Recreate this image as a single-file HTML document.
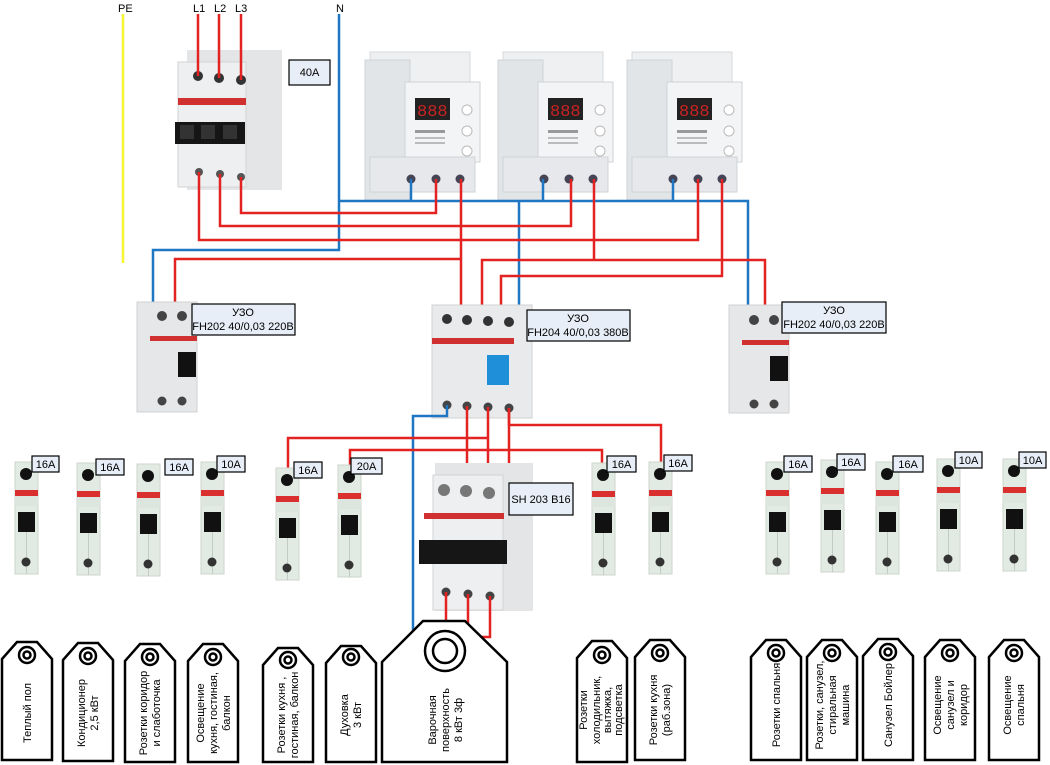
<!DOCTYPE html>
<html><head><meta charset="utf-8"><style>
html,body{margin:0;padding:0;background:#fff;}
svg{display:block;font-family:"Liberation Sans","DejaVu Sans",sans-serif;}
.lb{fill:#e8eef7;stroke:#000;stroke-width:1.2;}
.lt{font-size:11px;fill:#000;}
.tg{fill:#fff;stroke:#000;stroke-width:2.5;}
.tt{font-size:11px;fill:#000;}
.r{stroke:#e32222;stroke-width:2.5;fill:none;}
.b{stroke:#1f77c4;stroke-width:2.5;fill:none;}
</style></head><body>
<svg width="1050" height="765" viewBox="0 0 1050 765" xmlns="http://www.w3.org/2000/svg">
<defs>
<g id="mcb">
<rect x="0" y="0" width="23" height="112" fill="#e2ebe3" stroke="#cdd6ce"/>
<rect x="0" y="28" width="23" height="6" fill="#d9302f"/>
<rect x="0" y="34" width="23" height="10" fill="#dde6de"/>
<rect x="3" y="50" width="17" height="20" fill="#111"/>
<line x1="11.5" y1="70" x2="11.5" y2="112" stroke="#c3ccc4"/>
<circle cx="11" cy="100" r="4.5" fill="#333"/>
<circle cx="11" cy="12" r="6" fill="#111"/>
</g>
<g id="relay">
<rect x="5" y="0" width="100" height="40" fill="#eef0f2" stroke="#d5d8db"/>
<rect x="0" y="8" width="45" height="140" fill="#e2e5e8" stroke="#d0d3d6"/>
<rect x="40" y="30" width="75" height="80" fill="#f3f4f6" stroke="#cfd2d5"/>
<rect x="50" y="46" width="35" height="22" fill="#222"/>
<text x="52" y="64" font-size="17" fill="#c22" font-family="Liberation Mono,monospace">888</text>
<circle cx="102" cy="58" r="5" fill="#fff" stroke="#bbb"/>
<circle cx="102" cy="79" r="5" fill="#fff" stroke="#bbb"/>
<circle cx="102" cy="99" r="5" fill="#fff" stroke="#bbb"/>
<rect x="50" y="78" width="30" height="3" fill="#999"/>
<rect x="50" y="85" width="30" height="2" fill="#bbb"/>
<rect x="50" y="90" width="30" height="2" fill="#bbb"/>
<rect x="5" y="105" width="105" height="35" fill="#e6e8eb" stroke="#d0d3d6"/>
<circle cx="46" cy="127" r="4.5" fill="#445"/>
<circle cx="71" cy="127" r="4.5" fill="#445"/>
<circle cx="95" cy="127" r="4.5" fill="#445"/>
</g>
</defs>

<!-- top labels -->
<text x="118" y="12" class="lt">PE</text>
<text x="193" y="12" class="lt">L1</text>
<text x="214" y="12" class="lt">L2</text>
<text x="235" y="12" class="lt">L3</text>
<text x="336" y="12" class="lt">N</text>
<line x1="123" y1="14" x2="123" y2="263" stroke="#f5f531" stroke-width="2.5"/>

<!-- 3-pole 40A -->
<g>
<rect x="187" y="50" width="95" height="140" fill="#e4e5e7"/>
<rect x="178" y="62" width="68" height="125" fill="#eeeff0" stroke="#d2d3d5"/>
<rect x="178" y="98" width="68" height="7" fill="#d0302f"/>
<rect x="175" y="122" width="70" height="22" fill="#161616"/>
<rect x="180" y="125" width="14" height="14" fill="#333"/>
<rect x="201" y="125" width="14" height="14" fill="#333"/>
<rect x="223" y="125" width="14" height="14" fill="#333"/>
<circle cx="198" cy="76" r="5" fill="#333"/><circle cx="219" cy="78" r="5" fill="#333"/><circle cx="241" cy="80" r="5" fill="#333"/>
<circle cx="199" cy="172" r="4" fill="#555"/><circle cx="220" cy="174" r="4" fill="#555"/><circle cx="241" cy="177" r="4" fill="#555"/>
</g>
<rect x="289" y="60" width="41" height="25" class="lb"/><text x="309.5" y="76" class="lt" text-anchor="middle">40A</text>

<!-- relays -->
<use href="#relay" x="365" y="52"/>
<use href="#relay" x="498" y="52"/>
<use href="#relay" x="627" y="52"/>

<!-- wiring top -->
<path class="r" d="M198 14V76"/><path class="r" d="M219 14V78"/><path class="r" d="M241 14V80"/>
<path class="b" d="M339 14V250H153V305"/>
<path class="b" d="M339 201H748V308"/>
<path class="b" d="M411 179V201M543 179V201M673 179V201"/>
<path class="b" d="M519 201V308"/>
<path class="r" d="M241 177V213H436V179"/>
<path class="r" d="M220 174V226H571V179"/>
<path class="r" d="M199 172V240H698V179"/>
<path class="r" d="M461 179V308"/>
<path class="r" d="M175 305V259H461"/>
<path class="r" d="M594 179V260"/>
<path class="r" d="M482 308V260H765V308"/>
<path class="r" d="M722 179V276H501V308"/>

<!-- left UZO -->
<g>
<rect x="137" y="302" width="60" height="110" fill="#e6e7e9" stroke="#d0d1d3"/>
<circle cx="162" cy="316" r="5" fill="#444"/><circle cx="182" cy="316" r="5" fill="#444"/>
<rect x="150" y="336" width="47" height="5" fill="#d0302f"/>
<rect x="178" y="352" width="18" height="25" fill="#111"/>
<circle cx="162" cy="401" r="4.5" fill="#444"/><circle cx="182" cy="401" r="4.5" fill="#444"/>
</g>
<rect x="192" y="304" width="103" height="31" class="lb"/>
<text x="243" y="316" class="lt" text-anchor="middle">УЗО</text>
<text x="243" y="330" class="lt" text-anchor="middle">FH202 40/0,03 220В</text>

<!-- right UZO -->
<g>
<rect x="729" y="305" width="60" height="108" fill="#e6e7e9" stroke="#d0d1d3"/>
<circle cx="754" cy="320" r="5" fill="#444"/><circle cx="774" cy="320" r="5" fill="#444"/>
<rect x="742" y="340" width="47" height="5" fill="#d0302f"/>
<rect x="770" y="356" width="18" height="25" fill="#111"/>
<circle cx="754" cy="404" r="4.5" fill="#444"/><circle cx="774" cy="404" r="4.5" fill="#444"/>
</g>
<rect x="782" y="302" width="104" height="31" class="lb"/>
<text x="834" y="314" class="lt" text-anchor="middle">УЗО</text>
<text x="834" y="328" class="lt" text-anchor="middle">FH202 40/0,03 220В</text>

<!-- middle UZO -->
<g>
<rect x="432" y="305" width="100" height="113" fill="#e9eaec" stroke="#d0d1d3"/>
<circle cx="447" cy="319" r="5" fill="#333"/><circle cx="467" cy="320" r="5" fill="#333"/><circle cx="488" cy="321" r="5" fill="#333"/><circle cx="509" cy="322" r="5" fill="#333"/>
<rect x="432" y="338" width="82" height="6" fill="#d0302f"/>
<rect x="487" y="355" width="22" height="30" fill="#1e8fd8"/>
<circle cx="447" cy="405" r="4.5" fill="#444"/><circle cx="467" cy="406" r="4.5" fill="#444"/><circle cx="488" cy="407" r="4.5" fill="#444"/><circle cx="509" cy="408" r="4.5" fill="#444"/>
</g>
<rect x="527" y="310" width="103" height="31" class="lb"/>
<text x="578" y="322" class="lt" text-anchor="middle">УЗО</text>
<text x="578" y="336" class="lt" text-anchor="middle">FH204 40/0,03 380В</text>

<!-- wiring bottom -->
<path class="b" d="M447 405V416H413V632"/>
<path class="r" d="M509 408V425H661V470"/>
<path class="r" d="M288 470V438H488"/>
<path class="r" d="M350 470V450H602V470"/>
<path class="r" d="M467 406V470M488 407V470M509 408V470"/>

<!-- SH203 -->
<g>
<rect x="435" y="463" width="98" height="148" fill="#e4e5e7"/>
<rect x="433" y="475" width="70" height="135" fill="#eeeff0" stroke="#d2d3d5"/>
<circle cx="444" cy="490" r="6" fill="#777"/><circle cx="466" cy="491" r="6" fill="#777"/><circle cx="489" cy="493" r="6" fill="#777"/>
<rect x="424" y="513" width="80" height="6" fill="#d0302f"/>
<rect x="419" y="540" width="88" height="24" fill="#161616"/>
<circle cx="446" cy="592" r="4.5" fill="#444"/><circle cx="468" cy="594" r="4.5" fill="#444"/><circle cx="490" cy="596" r="4.5" fill="#444"/>
</g>
<rect x="509" y="483" width="64" height="32" class="lb"/><text x="541" y="503" class="lt" text-anchor="middle">SH 203 B16</text>
<path class="r" d="M446 592V645M468 594V625M490 596V637H482"/>

<!-- single breakers -->
<use href="#mcb" x="15" y="462"/><rect x="32" y="456" width="27" height="16" class="lb"/><text x="45.5" y="468" class="lt" text-anchor="middle">16A</text>
<use href="#mcb" x="77" y="463"/><rect x="96" y="459" width="28" height="16" class="lb"/><text x="110" y="471" class="lt" text-anchor="middle">16A</text>
<use href="#mcb" x="137" y="464"/><rect x="165" y="459" width="28" height="16" class="lb"/><text x="179" y="471" class="lt" text-anchor="middle">16A</text>
<use href="#mcb" x="201" y="462"/><rect x="217" y="456" width="28" height="16" class="lb"/><text x="231" y="468" class="lt" text-anchor="middle">10A</text>
<use href="#mcb" x="276" y="468"/><rect x="294" y="462" width="28" height="16" class="lb"/><text x="308" y="474" class="lt" text-anchor="middle">16A</text>
<use href="#mcb" x="338" y="465"/><rect x="351" y="458" width="31" height="16" class="lb"/><text x="366.5" y="470" class="lt" text-anchor="middle">20A</text>
<use href="#mcb" x="592" y="463"/><rect x="607" y="456" width="29" height="16" class="lb"/><text x="621.5" y="468" class="lt" text-anchor="middle">16A</text>
<use href="#mcb" x="649" y="462"/><rect x="664" y="455" width="28" height="16" class="lb"/><text x="678" y="467" class="lt" text-anchor="middle">16A</text>
<use href="#mcb" x="766" y="462"/><rect x="784" y="456" width="28" height="16" class="lb"/><text x="798" y="468" class="lt" text-anchor="middle">16A</text>
<use href="#mcb" x="821" y="460"/><rect x="837" y="454" width="28" height="16" class="lb"/><text x="851" y="466" class="lt" text-anchor="middle">16A</text>
<use href="#mcb" x="876" y="462"/><rect x="893" y="456" width="30" height="16" class="lb"/><text x="908" y="468" class="lt" text-anchor="middle">16A</text>
<use href="#mcb" x="937" y="459"/><rect x="955" y="452" width="27" height="16" class="lb"/><text x="968.5" y="464" class="lt" text-anchor="middle">10A</text>
<use href="#mcb" x="1003" y="459"/><rect x="1019" y="452" width="27" height="16" class="lb"/><text x="1032.5" y="464" class="lt" text-anchor="middle">10A</text>

<!-- tags -->
<g class="tg">
<path d="M17 642H37L52 659V760H2V659Z"/>
<path d="M78 643H98L113 660V761H63V660Z"/>
<path d="M140 644H160L175 661V762H125V661Z"/>
<path d="M203 644H223L238 661V762H188V661Z"/>
<path d="M278 648H298L313 665V762H263V665Z"/>
<path d="M341 646H361L376 663V762H326V663Z"/>
<path d="M423 621H465L507 662V762H382V662Z"/>
<path d="M592 641H612L627 658V762H577V658Z"/>
<path d="M650 640H670L685 657V760H635V657Z"/>
<path d="M766 640H786L801 657V760H751V657Z"/>
<path d="M822 640H842L857 657V760H807V657Z"/>
<path d="M878 639H898L913 656V760H863V656Z"/>
<path d="M940 640H960L975 657V760H925V657Z"/>
<path d="M1004 640H1024L1039 657V760H989V657Z"/>
</g>
<g fill="none" stroke="#000" stroke-width="2.5">
<circle cx="27" cy="655" r="8"/><circle cx="27" cy="655" r="3.5"/>
<circle cx="88" cy="656" r="8"/><circle cx="88" cy="656" r="3.5"/>
<circle cx="150" cy="657" r="8"/><circle cx="150" cy="657" r="3.5"/>
<circle cx="213" cy="657" r="8"/><circle cx="213" cy="657" r="3.5"/>
<circle cx="288" cy="660" r="8"/><circle cx="288" cy="660" r="3.5"/>
<circle cx="351" cy="657" r="8"/><circle cx="351" cy="657" r="3.5"/>
<circle cx="445" cy="651" r="20"/><circle cx="445" cy="651" r="12"/>
<circle cx="602" cy="655" r="8"/><circle cx="602" cy="655" r="3.5"/>
<circle cx="660" cy="653" r="8"/><circle cx="660" cy="653" r="3.5"/>
<circle cx="776" cy="653" r="8"/><circle cx="776" cy="653" r="3.5"/>
<circle cx="832" cy="653" r="8"/><circle cx="832" cy="653" r="3.5"/>
<circle cx="888" cy="652" r="8"/><circle cx="888" cy="652" r="3.5"/>
<circle cx="950" cy="653" r="8"/><circle cx="950" cy="653" r="3.5"/>
<circle cx="1014" cy="653" r="8"/><circle cx="1014" cy="653" r="3.5"/>
</g>

<g class="tt" text-anchor="middle">
<text transform="translate(27,713) rotate(-90)"><tspan x="0" y="4">Теплый пол</tspan></text>
<text transform="translate(88,713) rotate(-90)"><tspan x="0" y="-3">Кондиционер</tspan><tspan x="0" y="10">2,5 кВт</tspan></text>
<text transform="translate(150,713) rotate(-90)"><tspan x="0" y="-3">Розетки коридор</tspan><tspan x="0" y="10">и слаботочка</tspan></text>
<text transform="translate(213,713) rotate(-90)"><tspan x="0" y="-9">Освещение</tspan><tspan x="0" y="4">кухня, гостиная,</tspan><tspan x="0" y="17">балкон</tspan></text>
<text transform="translate(288,715) rotate(-90)"><tspan x="0" y="-3">Розетки кухня ,</tspan><tspan x="0" y="10">гостиная, балкон</tspan></text>
<text transform="translate(351,715) rotate(-90)"><tspan x="0" y="-3">Духовка</tspan><tspan x="0" y="10">3 кВт</tspan></text>
<text transform="translate(445,720) rotate(-90)"><tspan x="0" y="-9">Варочная</tspan><tspan x="0" y="4">поверхность</tspan><tspan x="0" y="17">8 кВт 3ф</tspan></text>
<text transform="translate(602,710) rotate(-90)"><tspan x="0" y="-15">Розетки</tspan><tspan x="0" y="-2">холодильник,</tspan><tspan x="0" y="9">вытяжка,</tspan><tspan x="0" y="20">подсветка</tspan></text>
<text transform="translate(660,710) rotate(-90)"><tspan x="0" y="-3">Розетки кухня</tspan><tspan x="0" y="10">(раб.зона)</tspan></text>
<text transform="translate(776,705) rotate(-90)"><tspan x="0" y="4">Розетки спальня</tspan></text>
<text transform="translate(832,705) rotate(-90)"><tspan x="0" y="-9">Розетки, санузел,</tspan><tspan x="0" y="4">стиральная</tspan><tspan x="0" y="17">машина</tspan></text>
<text transform="translate(888,705) rotate(-90)"><tspan x="0" y="4">Санузел Бойлер</tspan></text>
<text transform="translate(950,705) rotate(-90)"><tspan x="0" y="-9">Освещение</tspan><tspan x="0" y="4">санузел и</tspan><tspan x="0" y="17">коридор</tspan></text>
<text transform="translate(1014,705) rotate(-90)"><tspan x="0" y="-3">Освещение</tspan><tspan x="0" y="10">спальня</tspan></text>
</g>
</svg>
</body></html>
